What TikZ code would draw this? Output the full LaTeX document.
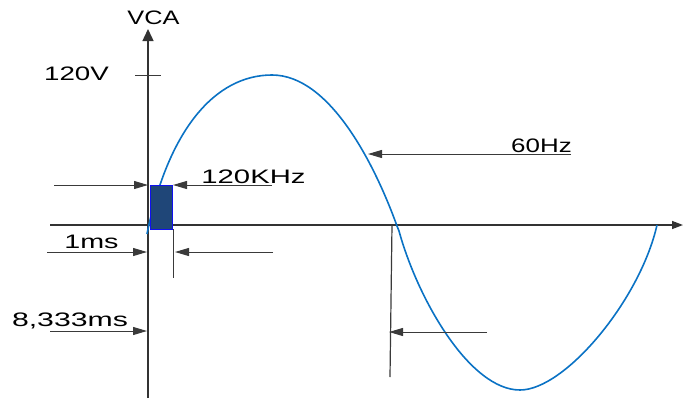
\documentclass[tikz,border=0pt]{standalone}
\usepackage{fontspec}
\setmainfont{Liberation Sans}
\usetikzlibrary{arrows.meta}
\definecolor{axisgray}{HTML}{333333}
\definecolor{dimgray}{HTML}{3A3A3A}
\definecolor{wave}{HTML}{0A72C4}
\definecolor{boxfill}{HTML}{1F4678}
\definecolor{boxedge}{HTML}{1010F0}
\tikzset{
  axisline/.style={draw=axisgray, line width=1.4pt},
  dimline/.style={draw=dimgray, line width=1pt},
  dimarrow/.style={dimline, -{Triangle[length=14pt,width=8pt]}},
  lbl/.style={inner sep=0pt, anchor=base, font=\fontsize{19.5}{20}\selectfont},
  wavecurve/.style={draw=wave, line width=1.6pt},
}
\begin{document}
\begin{tikzpicture}[x=1pt,y=-1pt]
\useasboundingbox (0,0) rectangle (694,399);
% axes
\coordinate (vb) at (148,398);
\coordinate (vt) at (148,29);
\coordinate (hl) at (50,225);
\coordinate (hr) at (683,225);
\draw[axisline, -{Triangle[length=12pt,width=11pt]}] (vb) -- (vt);
\draw[axisline, -{Triangle[length=11pt,width=8pt]}] (hl) -- (hr);
% tick 120V
\coordinate (tk1) at (135,75);
\coordinate (tk2) at (161,75);
\draw[dimline] (tk1) -- (tk2);
% wave
\coordinate (w0) at (147,234);
\coordinate (w1) at (272,75);
\coordinate (w2) at (397,226);
\coordinate (w3) at (399,231);
\coordinate (w4) at (520,390);
\coordinate (w5) at (657,225);
\draw[wavecurve] (w0) .. controls (168,130) and (215,75) .. (w1)
  .. controls (330,75) and (375,165) .. (w2) -- (w3)
  .. controls (418,300) and (470,390) .. (w4)
  .. controls (565,390) and (640,300) .. (w5);
% 120KHz box
\node[draw=boxedge, fill=boxfill, line width=0.8pt, minimum width=22pt, minimum height=44pt, inner sep=0pt] (box) at (161,207) {};
% labels
\node[lbl] (vca) at (153.5,24) {\scalebox{1.3}[1]{VCA}};
\node[lbl] (v120) at (76.5,80) {\scalebox{1.42}[1]{120V}};
\node[lbl] (khz) at (253.5,183) {\scalebox{1.5}[1]{120KHz}};
\node[lbl] (ms1) at (91.5,248) {\scalebox{1.47}[1]{1ms}};
\node[lbl] (ms8) at (70,326) {\scalebox{1.55}[1]{8,333ms}};
\node[lbl] (hz60) at (541.5,152) {\scalebox{1.33}[1]{60Hz}};
% dimension arrows
\coordinate (d1s) at (54,185);
\coordinate (d1e) at (148,185);
\draw[dimarrow] (d1s) -- (d1e);
\coordinate (d2s) at (272,185);
\coordinate (d2e) at (173,185);
\draw[dimarrow] (d2s) -- (d2e);
\coordinate (d3s) at (47,252);
\coordinate (d3e) at (147,252);
\draw[dimarrow] (d3s) -- (d3e);
\coordinate (v1t) at (173,229);
\coordinate (v1b) at (173,278);
\draw[dimline] (v1t) -- (v1b);
\coordinate (d4s) at (273,252);
\coordinate (d4e) at (175,252);
\draw[dimarrow] (d4s) -- (d4e);
\coordinate (d5s) at (50,331);
\coordinate (d5e) at (147,331);
\draw[dimarrow] (d5s) -- (d5e);
\coordinate (d6s) at (571,154);
\coordinate (d6e) at (368,154);
\draw[dimarrow] (d6s) -- (d6e);
\coordinate (v2t) at (392,225);
\coordinate (v2b) at (390,377);
\draw[dimline, line width=1.2pt] (v2t) -- (v2b);
\coordinate (d7s) at (487,332);
\coordinate (d7e) at (389,332);
\draw[dimarrow] (d7s) -- (d7e);
\end{tikzpicture}
\end{document}
